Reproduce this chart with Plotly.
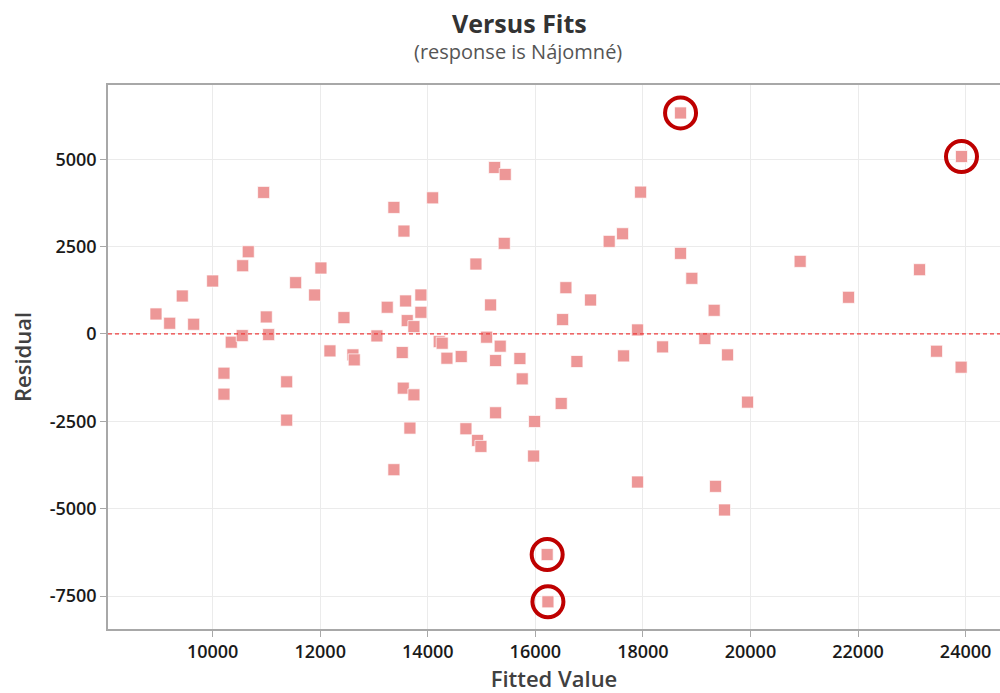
import plotly.graph_objects as go

# Residuals vs fitted values for the rent model
fitted = [
    8946, 9201, 9435, 9647, 10000, 10210, 10210, 10346, 10550, 10558,
    10662, 10948, 10997, 11041, 11376, 11376, 11543, 11896, 12013, 12181,
    12441, 12608, 12633, 13054, 13246, 13370, 13370, 13525, 13544, 13557,
    13588, 13618, 13668, 13742, 13742, 13872, 13872, 14090, 14213, 14268,
    14356, 14622, 14709, 14895, 14926, 14988, 15094, 15168, 15243, 15261,
    15261, 15347, 15422, 15440, 15713, 15756, 15968, 15986, 16220, 16234,
    16481, 16507, 16568, 16773, 17027, 17373, 17622, 17641, 17901, 17901,
    17957, 18366, 18700, 18700, 18910, 19152, 19325, 19351, 19518, 19574,
    19946, 20924, 21824, 23144, 23460, 23917, 23924,
]
residual = [
    571, 305, 1086, 277, 1514, -1124, -1724, -237, -49, 1951,
    2351, 4049, 486, -20, -1371, -2467, 1466, 1114, 1886, -486,
    466, -600, -743, -57, 763, 3620, -3886, -533, -1552, 2943,
    943, 381, -2695, 209, -1743, 1114, 619, 3894, -220, -266,
    -695, -648, -2714, 2000, -3048, -3219, -94, 829, 4763, -762,
    -2257, -351, 2591, 4563, -705, -1286, -3495, -2505, -6314, -7666,
    -1990, 410, 1323, -790, 971, 2648, 2866, -629, 114, -4238,
    4057, -371, 6323, 2305, 1591, -133, 676, -4362, -5038, -600,
    -1952, 2076, 1048, 1838, -495, -952, 5076,
]
# observations flagged as unusual (large residuals)
flagged = [58, 59, 72, 86]

x_ticks = [10000, 12000, 14000, 16000, 18000, 20000, 22000, 24000]
x_labels = ["10000", "12000", "14000", "16000", "18000", "20000", "22000", "24000"]
y_ticks = [5000, 2500, 0, -2500, -5000, -7500]
y_labels = ["5000", "2500", "0", "-2500", "-5000", "-7500"]

FONT = "Open Sans"
fig = go.Figure()

fig.add_trace(go.Scatter(
    x=fitted, y=residual, mode="markers",
    marker=dict(symbol="square", size=12, color="rgb(237,151,151)",
                line=dict(color="rgba(255,255,255,0.7)", width=1)),
    showlegend=False, hoverinfo="x+y",
))

fig.add_trace(go.Scatter(
    x=[fitted[i] for i in flagged], y=[residual[i] for i in flagged],
    mode="markers",
    marker=dict(symbol="circle-open", size=31, color="rgb(190,0,0)",
                line=dict(color="rgb(190,0,0)", width=4)),
    showlegend=False, hoverinfo="skip",
))

# zero reference line
fig.add_shape(type="line", xref="paper", x0=0, x1=1, yref="y", y0=0, y1=0,
              line=dict(color="rgb(238,60,60)", width=1.2, dash="4px,3px"),
              layer="above")

fig.update_layout(
    width=1000, height=693,
    margin=dict(l=108, r=0, t=85, b=64),
    paper_bgcolor="white", plot_bgcolor="white",
    font=dict(family=FONT, color="#222222"),
    annotations=[
        dict(text="<b>Versus Fits</b>", xref="paper", yref="paper",
             x=(519 - 108) / 892, y=1, yshift=43, showarrow=False,
             xanchor="center", yanchor="bottom",
             font=dict(family=FONT, size=25, color="#333333")),
        dict(text="(response is Nájomné)", xref="paper", yref="paper",
             x=(518 - 108) / 892, y=1, yshift=18, showarrow=False,
             xanchor="center", yanchor="bottom",
             font=dict(family=FONT, size=20, color="#555555")),
    ],
)

tick_font = dict(family=FONT, size=18, color="#1a1a1a", weight=600)

fig.update_xaxes(
    range=[8054, 24640], tickvals=x_ticks, ticktext=x_labels,
    showgrid=True, gridcolor="#EBEBEB", gridwidth=1,
    showline=True, linecolor="#A8A8A8", linewidth=1.5, mirror=True,
    ticks="outside", ticklen=6, tickcolor="#A8A8A8",
    tickfont=tick_font,
    title=dict(text="Fitted Value", standoff=6,
               font=dict(family=FONT, size=22, color="#404040", weight=600)),
    zeroline=False,
)
fig.update_yaxes(
    range=[-8444, 7123], tickvals=y_ticks, ticktext=y_labels,
    showgrid=True, gridcolor="#EBEBEB", gridwidth=1,
    showline=True, linecolor="#A8A8A8", linewidth=1.5,
    ticks="outside", ticklen=6, tickcolor="#A8A8A8",
    tickfont=tick_font,
    title=dict(text="Residual", standoff=12,
               font=dict(family=FONT, size=22, color="#404040", weight=600)),
    zeroline=False,
)

fig.write_html("out.html")
